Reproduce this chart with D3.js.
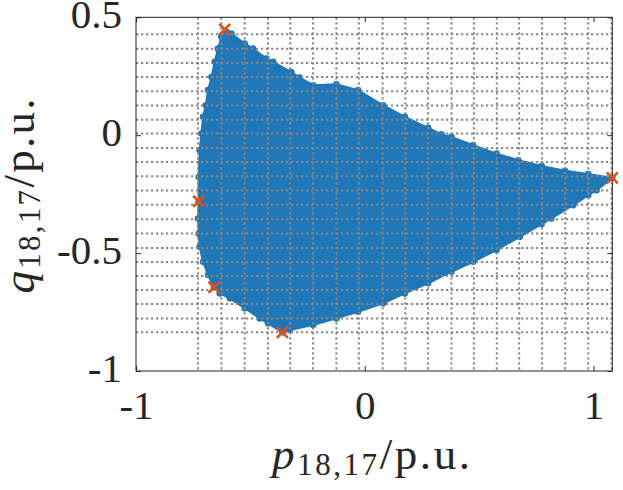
<!DOCTYPE html>
<html><head><meta charset="utf-8">
<script src="https://cdn.jsdelivr.net/npm/d3@7"></script>
<style>body{margin:0;background:#fff} svg{display:block}</style>
</head><body><svg id="c" width="623" height="490"></svg>
<script>
// boundary of the feasible region (p, q) in p.u.
const boundaryP = [-0.605,-0.583,-0.525,-0.488,-0.430,-0.401,-0.321,-0.284,-0.226,-0.124,-0.029,0.080,0.175,0.277,0.335,0.379,0.474,0.576,0.671,0.773,0.875,0.977,1.082,
  1.013,0.977,0.911,0.816,0.773,0.678,0.576,0.474,0.379,0.277,0.175,0.080,-0.029,-0.124,-0.226,-0.328,-0.360,
  -0.423,-0.459,-0.525,-0.590,-0.634,-0.659,-0.685,-0.707,-0.722,-0.726,-0.729,-0.726,-0.726,-0.722,-0.714,-0.707,-0.695,-0.685,-0.670,-0.656,-0.642,-0.627];
const boundaryQ = [0.438,0.431,0.389,0.367,0.325,0.311,0.268,0.244,0.212,0.216,0.191,0.127,0.078,0.031,0.004,-0.007,-0.042,-0.078,-0.106,-0.130,-0.151,-0.165,-0.181,
  -0.233,-0.254,-0.297,-0.353,-0.377,-0.431,-0.487,-0.537,-0.579,-0.628,-0.671,-0.713,-0.749,-0.777,-0.805,-0.826,-0.836,
  -0.798,-0.777,-0.734,-0.692,-0.671,-0.645,-0.593,-0.537,-0.473,-0.417,-0.353,-0.280,-0.177,-0.064,0.007,0.078,0.127,0.191,0.247,0.311,0.367,0.417];
// extreme vertices (orange crosses)
const vertexP = [-0.612, 1.082, -0.726, -0.659, -0.360];
const vertexQ = [0.449, -0.181, -0.280, -0.645, -0.836];
// sampling grid lines
const gridP = [-0.729,-0.627,-0.525,-0.423,-0.326,-0.226,-0.124,-0.026,0.078,0.177,0.277,0.379,0.477,0.577,0.675,0.775,0.876,0.977,1.079];
const gridQ = [0.428,0.367,0.306,0.247,0.186,0.126,0.066,0.007,-0.054,-0.114,-0.174,-0.234,-0.295,-0.356,-0.417,-0.478,-0.538,-0.597,-0.657,-0.716,-0.777,-0.836];
// ticks
const xTickValues = [-1, 0, 1];
const xTickLabels = ["-1", "0", "1"];
const yTickValues = [-1, -0.5, 0, 0.5];
const yTickLabels = ["-1", "-0.5", "0", "0.5"];

const L = 136, R = 612.3, T = 17.3, B = 371;
const svg = d3.select("#c");
const x = d3.scaleLinear().domain([-1, 1.082]).range([L, R]);
const y = d3.scaleLinear().domain([-1, 0.5]).range([B, T]);
const blue = "#1f77b8", orange = "#d95319";
const font = "'Liberation Serif', 'Times New Roman', serif";

const pts = boundaryP.map((p, i) => [x(p), y(boundaryQ[i])]);
svg.append("path").attr("d", "M" + pts.join("L") + "Z")
  .attr("fill", blue).attr("stroke", blue).attr("stroke-width", 2).attr("stroke-linejoin", "round");
svg.append("g").selectAll("circle").data(pts).join("circle")
  .attr("cx", d => d[0]).attr("cy", d => d[1]).attr("r", 3.3).attr("fill", blue);

// dotted grid
const g = svg.append("g").attr("stroke", "#878787").attr("stroke-width", 2).attr("stroke-dasharray", "2.2,2.8");
g.selectAll("line.v").data(gridP).join("line").attr("class", "v")
  .attr("x1", d => x(d)).attr("x2", d => x(d)).attr("y1", T).attr("y2", B);
g.selectAll("line.h").data(gridQ).join("line").attr("class", "h")
  .attr("y1", d => y(d)).attr("y2", d => y(d)).attr("x1", L).attr("x2", R);

// axes
function styleAxis(sel) {
  sel.select(".domain").remove();
  sel.selectAll(".tick line").attr("stroke", "#262626").attr("stroke-width", 1);
  sel.selectAll("text").attr("font-family", font).attr("font-size", 41).attr("fill", "#262626");
}
svg.append("g").attr("transform", `translate(0,${B})`)
  .call(d3.axisBottom(x).tickValues(xTickValues).tickFormat((d, i) => xTickLabels[i]).tickSizeInner(-5).tickSizeOuter(0).tickPadding(19))
  .call(styleAxis);
svg.append("g").attr("transform", `translate(0,${T})`)
  .call(d3.axisTop(x).tickValues(xTickValues).tickFormat("").tickSizeInner(-5).tickSizeOuter(0))
  .call(styleAxis);
svg.append("g").attr("transform", `translate(${L},0)`)
  .call(d3.axisLeft(y).tickValues(yTickValues).tickFormat((d, i) => yTickLabels[i]).tickSizeInner(-5).tickSizeOuter(0).tickPadding(14))
  .call(styleAxis)
  .selectAll("text").attr("dy", "0.26em");
svg.append("g").attr("transform", `translate(${R},0)`)
  .call(d3.axisRight(y).tickValues(yTickValues).tickFormat("").tickSizeInner(-5).tickSizeOuter(0))
  .call(styleAxis);
svg.append("rect").attr("x", L).attr("y", T).attr("width", R - L).attr("height", B - T)
  .attr("fill", "none").attr("stroke", "#262626").attr("stroke-width", 1);

// vertex markers
const s = 5.5;
svg.append("g").selectAll("path").data(vertexP).join("path")
  .attr("d", (p, i) => { const cx = x(p), cy = y(vertexQ[i]);
    return `M${cx - s},${cy - s}L${cx + s},${cy + s}M${cx - s},${cy + s}L${cx + s},${cy - s}`; })
  .attr("stroke", orange).attr("stroke-width", 2.6).attr("fill", "none");

// axis labels
function label(sel, sym, len) {
  sel.attr("font-family", font).attr("font-size", 45).attr("fill", "#262626")
    .attr("textLength", len).attr("lengthAdjust", "spacing");
  sel.append("tspan").attr("font-style", "italic").text(sym);
  sel.append("tspan").attr("font-size", 31).attr("dy", 6).text("18,17");
  sel.append("tspan").attr("dy", -6).text("/p.u.");
}
svg.append("text").attr("x", 371).attr("y", 469).attr("text-anchor", "middle").call(label, "p", 198);
svg.append("text").attr("transform", "translate(34,196) rotate(-90)").attr("text-anchor", "middle").call(label, "q", 195);
</script></body></html>
